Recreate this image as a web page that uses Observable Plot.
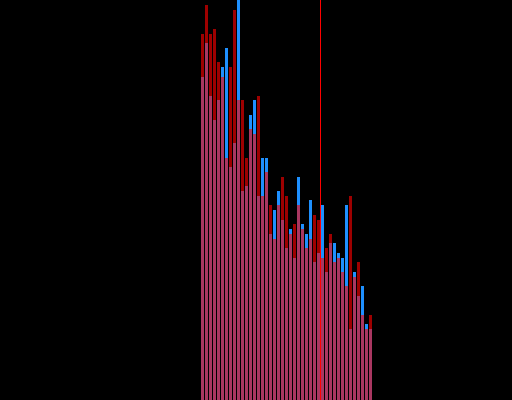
<!DOCTYPE html>
<html>
<head>
<meta charset="utf-8">
<script src="https://cdn.jsdelivr.net/npm/d3@7"></script>
<script src="https://cdn.jsdelivr.net/npm/@observablehq/plot@0.6"></script>
<style>
  html, body { margin: 0; padding: 0; background: #000; overflow: hidden; }
  #chart svg { display: block; background: #000; }
</style>
</head>
<body>
<div id="chart"></div>
<script>
// Category index for each bar (43 bars)
const categories = d3.range(43);

// Series A (blue) values, drawn first
const blueValues = [
  80.75, 89.25, 76, 70, 75, 83.25, 88, 58.25, 64.25, 100,
  52.25, 53.5, 71.25, 75, 51, 60.5, 60.5, 41.5, 47.5, 52.25,
  45, 38, 42.75, 35.5, 55.75, 44, 41.5, 50, 34.5, 36.75,
  48.75, 32, 39.25, 39.25, 36.75, 35.5, 48.75, 17.75, 32, 26,
  28.5, 19, 17.75
];

// Series B (red, translucent) values, drawn on top
const redValues = [
  91.5, 98.75, 91.5, 92.75, 84.5, 80.75, 60.5, 83.25, 97.5, 75,
  75, 60.5, 67.75, 66.5, 76, 51, 57, 48.75, 40.25, 48.75,
  55.75, 51, 41.5, 44, 48.75, 42.75, 38, 40.25, 46.25, 45,
  35.5, 38, 41.5, 34.5, 35.5, 32, 28.5, 51, 30.75, 34.5,
  21.25, 17.75, 21.25
];

// Position of the vertical marker
const markerAt = [30];

const blueData = categories.map((i) => ({i, value: blueValues[i]}));
const redData = categories.map((i) => ({i, value: redValues[i]}));

const chart = Plot.plot({
  width: 512,
  height: 400,
  marginTop: 0,
  marginBottom: 0,
  marginLeft: 200,
  marginRight: 140,
  style: {background: "#000"},
  x: {domain: [0, 43], axis: null},
  y: {domain: [0, 100], axis: null},
  marks: [
    Plot.rectY(blueData, {x: "i", interval: 1, y: "value", fill: "#1e90ff", insetLeft: 1, insetRight: 0}),
    Plot.rectY(redData, {x: "i", interval: 1, y: "value", fill: "red", fillOpacity: 0.62, insetLeft: 1, insetRight: 0}),
    Plot.ruleX(markerAt, {stroke: "red", strokeWidth: 1})
  ]
});

document.getElementById("chart").appendChild(chart);
</script>
</body>
</html>
